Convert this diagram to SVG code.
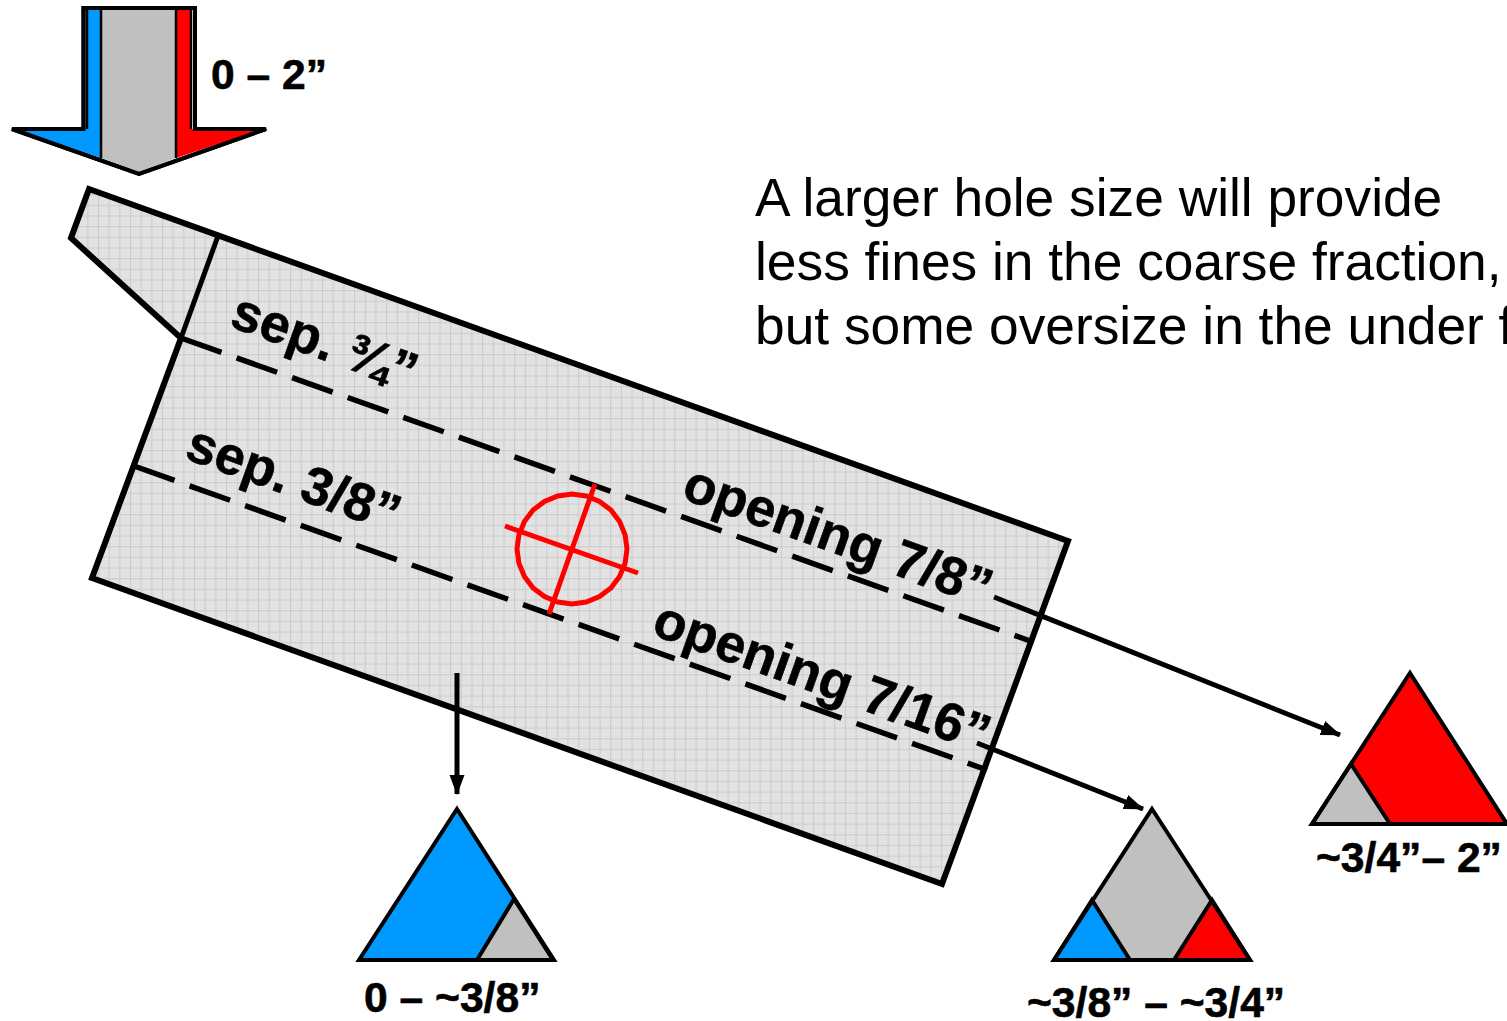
<svg xmlns="http://www.w3.org/2000/svg" width="1507" height="1021" viewBox="0 0 1507 1021">
<defs>
<pattern id="dots" width="2.67" height="2.67" patternUnits="userSpaceOnUse">
<rect width="2.67" height="2.67" fill="#e0e0e0"/>
<rect x="0.6" y="0.6" width="1.1" height="1.1" fill="#f0f0f0"/>
</pattern>
<pattern id="mesh" width="10.67" height="10.67" patternUnits="userSpaceOnUse">
<rect width="10.67" height="10.67" fill="url(#dots)"/>
<path d="M2.5 0V10.67M0 2.500H10.67" stroke="#cdcdcd" stroke-width="1.3" fill="none"/>
</pattern>
<marker id="head" markerUnits="userSpaceOnUse" markerWidth="20" markerHeight="16" refX="19" refY="8" orient="auto"><path d="M0 0.500L20 8L0 15.500Z" fill="#000"/></marker>
</defs>
<style>
.t{stroke:#000;stroke-width:4;stroke-linejoin:miter}
.b{font:bold 42.6px "Liberation Sans",Arial,sans-serif;fill:#000;stroke:#000;stroke-width:.6}
.s{font:bold 53.4px "Liberation Sans",Arial,sans-serif;fill:#000;stroke:#000;stroke-width:.6}
.p{font:53.300px "Liberation Sans",Arial,sans-serif;fill:#000}
.d{fill:none;stroke:#000;stroke-width:5.500;stroke-dasharray:43 16}
.c{fill:none;stroke:#000;stroke-width:5}
.r{fill:none;stroke:#f00;stroke-width:5}
</style>
<g id="feed-arrow">
<path d="M83.500 8H195V129H266L139 174L12 129H83.500Z" fill="#fff" class="t"/>
<path d="M87 8V129H15L101 158V8Z" fill="#0099ff"/>
<path d="M191 8V129H263L176 158V8Z" fill="#f00"/>
<path d="M101 8H176V158L139 172L101 158Z" fill="#c0c0c0"/>
<path d="M87 8V129M191 8V129M101 8V158M176 8V158" fill="none" stroke="#000" stroke-width="2.500"/>
<path d="M83.500 8H195V129H266L139 174L12 129H83.500Z" fill="none" class="t"/>
<text class="b" x="211" y="89">0 – 2”</text>
</g>
<g id="deck">
<path d="M89 189L1068 541L942 884L92 578L181 338L71 238Z" fill="url(#mesh)" stroke="#000" stroke-width="6" stroke-linejoin="miter"/>
<path d="M218 236L181 338" class="c"/>
<text class="s" transform="translate(228 326) rotate(19.7)">sep. ¾”</text>
<text class="s" transform="translate(183 458) rotate(19.7)">sep. 3/8”</text>
<text class="s" transform="translate(680 498) rotate(19.7)">opening 7/8”</text>
<text class="s" transform="translate(650 634) rotate(19.7)">opening 7/16”</text>
</g>
<g id="connectors">
<path d="M181 338L1033 642" class="d"/>
<path d="M134 466L987 770" class="d"/>
<path d="M994 597L1340 735" class="c" marker-end="url(#head)"/>
<path d="M977 743L1143 809" class="c" marker-end="url(#head)"/>
<path d="M457 673V794" class="c" marker-end="url(#head)"/>
</g>
<g id="hole">
<path d="M627 549L625.100 563.200L619.600 576.500L610.900 587.900L599.500 596.600L586.200 602.100L572 604L557.800 602.100L544.500 596.600L533.100 587.900L524.400 576.500L518.900 563.200L517 549L518.900 534.800L524.400 521.500L533.100 510.100L544.500 501.400L557.800 495.900L572 494L586.200 495.900L599.500 501.400L610.900 510.100L619.600 521.500L625.100 534.800Z" class="r"/>
<path d="M505 526L638 573M595 484L549 614" class="r"/>
</g>
<g id="note">
<text class="p" x="755" y="216">A larger hole size will provide</text>
<text class="p" x="755" y="280">less fines in the coarse fraction,</text>
<text class="p" x="755" y="344">but some oversize in the under f</text>
</g>
<g id="fines">
<path d="M457 809L554 960H359Z" fill="#0099ff"/>
<path d="M514 899L553 960H477Z" fill="#c0c0c0" class="t"/>
<path d="M457 809L554 960H359Z" fill="none" class="t"/>
<text class="b" x="364" y="1012">0 – ~3/8”</text>
</g>
<g id="middle">
<path d="M1152 809L1250 960H1054Z" fill="#c0c0c0"/>
<path d="M1092 900L1130 960H1054Z" fill="#0099ff" class="t"/>
<path d="M1212 900L1250 960H1174Z" fill="#f00" class="t"/>
<path d="M1152 809L1250 960H1054Z" fill="none" class="t"/>
<text class="b" x="1027" y="1017">~3/8” – ~3/4”</text>
</g>
<g id="coarse">
<path d="M1410 673L1507 824H1312Z" fill="#f00"/>
<path d="M1351 764L1390 824H1312Z" fill="#c0c0c0" class="t"/>
<path d="M1410 673L1507 824H1312Z" fill="none" class="t"/>
<text class="b" x="1316" y="872">~3/4”– 2”</text>
</g>
</svg>
